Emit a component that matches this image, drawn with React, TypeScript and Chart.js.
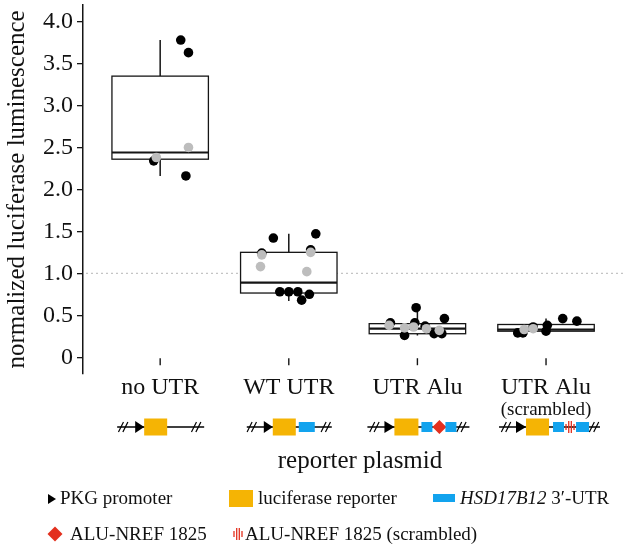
import React, { useEffect, useRef } from "react";
import { Chart, registerables } from "chart.js";
Chart.register(...registerables);

// ---------- data ----------
const categories = ["no UTR", "WT UTR", "UTR Alu", "UTR Alu"];
const categorySubLabels = ["", "", "", "(scrambled)"];
const yTicks = [0, 0.5, 1, 1.5, 2, 2.5, 3, 3.5, 4];
const yTickLabels = ["0", "0.5", "1.0", "1.5", "2.0", "2.5", "3.0", "3.5", "4.0"];
const yTitle = "normalized luciferase luminescence";
const xTitle = "reporter plasmid";
const referenceLevel = 1.0;

const whiskerLow = [2.16, 0.67, 0.26, 0.29];
const q1 = [2.36, 0.765, 0.28, 0.31];
const median = [2.44, 0.89, 0.34, 0.33];
const q3 = [3.35, 1.25, 0.4, 0.39];
const whiskerHigh = [3.78, 1.47, 0.59, 0.46];

const blackValues = [
  [3.78, 3.63, 2.34, 2.16],
  [1.42, 1.47, 1.24, 1.28, 0.78, 0.78, 0.78, 0.68, 0.75],
  [0.59, 0.41, 0.41, 0.46, 0.26, 0.28, 0.28, 0.37],
  [0.46, 0.43, 0.38, 0.31, 0.36, 0.29, 0.29],
];
const blackJitter = [
  [0.16, 0.22, -0.05, 0.2],
  [-0.12, 0.21, -0.21, 0.17, -0.07, 0.0, 0.07, 0.1, 0.16],
  [-0.01, -0.21, -0.02, 0.21, -0.1, 0.13, 0.19, 0.06],
  [0.13, 0.24, 0.01, 0.0, -0.1, -0.22, -0.18],
];
const greyValues = [
  [2.5, 2.38],
  [1.22, 1.25, 1.08, 1.02],
  [0.38, 0.35, 0.36, 0.34, 0.32],
  [0.33, 0.34],
];
const greyJitter = [
  [0.22, -0.03],
  [-0.21, 0.17, -0.22, 0.14],
  [-0.22, -0.1, -0.03, 0.07, 0.17],
  [-0.17, -0.1],
];

const legendRow1 = ["PKG promoter", "luciferase reporter", "HSD17B12", " 3\u2032-UTR"];
const legendRow2 = ["ALU-NREF 1825", "ALU-NREF 1825 (scrambled)"];

// ---------- styling ----------
const FONT = "'Liberation Serif', 'Times New Roman', serif";
const YELLOW = "#F5B404";
const BLUE = "#12A3EE";
const RED = "#E3301E";
const INK = "#151515";
const BOX_HALF = 0.375;

type Piece =
  | { t: "line"; a: number; b: number }
  | { t: "brk"; x: number }
  | { t: "arrow"; a: number; b: number }
  | { t: "yellow"; a: number; b: number }
  | { t: "blue"; a: number; b: number }
  | { t: "diamond"; x: number }
  | { t: "scr"; x: number };

const plasmidDrawings: Piece[][] = [
  [
    { t: "line", a: -43, b: 44 },
    { t: "brk", x: -37 },
    { t: "brk", x: 36 },
    { t: "arrow", a: -25, b: -16 },
    { t: "yellow", a: -16, b: 7 },
  ],
  [
    { t: "line", a: -42, b: 43 },
    { t: "brk", x: -37 },
    { t: "brk", x: 37 },
    { t: "arrow", a: -25, b: -16 },
    { t: "yellow", a: -16, b: 7 },
    { t: "blue", a: 10, b: 26 },
  ],
  [
    { t: "line", a: -50, b: 52 },
    { t: "brk", x: -43 },
    { t: "brk", x: 44 },
    { t: "arrow", a: -33, b: -23 },
    { t: "yellow", a: -23, b: 1 },
    { t: "blue", a: 4, b: 15 },
    { t: "diamond", x: 22 },
    { t: "blue", a: 28, b: 39 },
  ],
  [
    { t: "line", a: -47, b: 54 },
    { t: "brk", x: -40 },
    { t: "brk", x: 48 },
    { t: "arrow", a: -30, b: -20 },
    { t: "yellow", a: -20, b: 3 },
    { t: "blue", a: 7, b: 18 },
    { t: "scr", x: 24 },
    { t: "blue", a: 30, b: 43 },
  ],
];

function drawTriangle(ctx: CanvasRenderingContext2D, a: number, b: number, y: number, h: number) {
  ctx.beginPath();
  ctx.moveTo(a, y - h);
  ctx.lineTo(b, y);
  ctx.lineTo(a, y + h);
  ctx.closePath();
  ctx.fillStyle = "#000";
  ctx.fill();
}
function drawDiamond(ctx: CanvasRenderingContext2D, x: number, y: number, h: number) {
  ctx.beginPath();
  ctx.moveTo(x, y - h);
  ctx.lineTo(x + h, y);
  ctx.lineTo(x, y + h);
  ctx.lineTo(x - h, y);
  ctx.closePath();
  ctx.fillStyle = RED;
  ctx.fill();
}
function drawScrambled(ctx: CanvasRenderingContext2D, x: number, y: number) {
  ctx.strokeStyle = RED;
  ctx.lineWidth = 1.3;
  const offs = [-4, -1.3, 1.3, 4];
  const hs = [3, 6, 6, 3];
  offs.forEach((o, k) => {
    ctx.beginPath();
    ctx.moveTo(x + o, y - hs[k]);
    ctx.lineTo(x + o, y + hs[k]);
    ctx.stroke();
  });
}

function drawPlasmid(ctx: CanvasRenderingContext2D, cx: number, y: number, pieces: Piece[]) {
  ctx.save();
  for (const p of pieces) {
    if (p.t === "line") {
      ctx.strokeStyle = "#000";
      ctx.lineWidth = 1.4;
      ctx.beginPath();
      ctx.moveTo(cx + p.a, y);
      ctx.lineTo(cx + p.b, y);
      ctx.stroke();
    } else if (p.t === "brk") {
      ctx.strokeStyle = "#000";
      ctx.lineWidth = 1.2;
      for (const d of [-2.2, 2.2]) {
        ctx.beginPath();
        ctx.moveTo(cx + p.x + d - 2.5, y + 5);
        ctx.lineTo(cx + p.x + d + 2.5, y - 5);
        ctx.stroke();
      }
    } else if (p.t === "arrow") {
      drawTriangle(ctx, cx + p.a, cx + p.b, y, 6);
    } else if (p.t === "yellow") {
      ctx.fillStyle = YELLOW;
      ctx.fillRect(cx + p.a, y - 8.5, p.b - p.a, 17);
    } else if (p.t === "blue") {
      ctx.fillStyle = BLUE;
      ctx.fillRect(cx + p.a, y - 5, p.b - p.a, 10);
    } else if (p.t === "diamond") {
      drawDiamond(ctx, cx + p.x, y, 7);
    } else if (p.t === "scr") {
      drawScrambled(ctx, cx + p.x, y);
    }
  }
  ctx.restore();
}

const boxPlugin = {
  id: "boxes",
  beforeDatasetsDraw(chart: any) {
    const ctx: CanvasRenderingContext2D = chart.ctx;
    const xs = chart.scales.x;
    const ys = chart.scales.y;
    const area = chart.chartArea;
    ctx.save();
    // reference line
    ctx.strokeStyle = "#c4c4c4";
    ctx.lineWidth = 1.2;
    ctx.setLineDash([2, 3]);
    const yr = ys.getPixelForValue(referenceLevel);
    ctx.beginPath();
    ctx.moveTo(area.left + 3, yr);
    ctx.lineTo(area.right, yr);
    ctx.stroke();
    ctx.setLineDash([]);
    categories.forEach((_, i) => {
      const cx = xs.getPixelForValue(i);
      const x0 = xs.getPixelForValue(i - BOX_HALF);
      const x1 = xs.getPixelForValue(i + BOX_HALF);
      const yq1 = ys.getPixelForValue(q1[i]);
      const yq3 = ys.getPixelForValue(q3[i]);
      const ym = ys.getPixelForValue(median[i]);
      const ylo = ys.getPixelForValue(whiskerLow[i]);
      const yhi = ys.getPixelForValue(whiskerHigh[i]);
      ctx.strokeStyle = INK;
      ctx.lineWidth = 1.5;
      ctx.beginPath();
      ctx.moveTo(cx, yhi);
      ctx.lineTo(cx, yq3);
      ctx.moveTo(cx, yq1);
      ctx.lineTo(cx, ylo);
      ctx.stroke();
      ctx.fillStyle = "#fff";
      ctx.fillRect(x0, yq3, x1 - x0, yq1 - yq3);
      ctx.lineWidth = 1.3;
      ctx.strokeRect(x0, yq3, x1 - x0, yq1 - yq3);
      ctx.lineWidth = 2.2;
      ctx.beginPath();
      ctx.moveTo(x0, ym);
      ctx.lineTo(x1, ym);
      ctx.stroke();
    });
    ctx.restore();
  },
  afterDraw(chart: any) {
    const ctx: CanvasRenderingContext2D = chart.ctx;
    const xs = chart.scales.x;
    const ys = chart.scales.y;
    const area = chart.chartArea;
    const y0 = ys.getPixelForValue(0);
    ctx.save();
    ctx.fillStyle = "#111";
    ctx.textAlign = "center";
    ctx.textBaseline = "alphabetic";
    categories.forEach((label, i) => {
      const cx = xs.getPixelForValue(i);
      ctx.strokeStyle = INK;
      ctx.lineWidth = 1.4;
      ctx.beginPath();
      ctx.moveTo(cx, y0 + 1);
      ctx.lineTo(cx, y0 + 8);
      ctx.stroke();
      ctx.font = `24px ${FONT}`;
      ctx.fillStyle = "#111";
      ctx.fillText(label, cx, area.bottom + 20);
      if (categorySubLabels[i]) {
        ctx.font = `19px ${FONT}`;
        ctx.fillText(categorySubLabels[i], cx, area.bottom + 41);
      }
      drawPlasmid(ctx, cx, area.bottom + 53, plasmidDrawings[i]);
    });
    // x title
    ctx.font = `25px ${FONT}`;
    ctx.fillStyle = "#111";
    ctx.fillText(xTitle, 360, area.bottom + 94);

    // legend
    ctx.textAlign = "left";
    ctx.font = `19px ${FONT}`;
    const r1 = area.bottom + 130;
    const r2 = area.bottom + 166;
    drawTriangle(ctx, 48, 56, r1 - 5, 5);
    ctx.fillStyle = "#111";
    ctx.fillText(legendRow1[0], 60, r1);
    ctx.fillStyle = YELLOW;
    ctx.fillRect(229, r1 - 14, 24, 17);
    ctx.fillStyle = "#111";
    ctx.fillText(legendRow1[1], 258, r1);
    ctx.fillStyle = BLUE;
    ctx.fillRect(433, r1 - 10, 22, 8);
    ctx.fillStyle = "#111";
    ctx.font = `italic 19px ${FONT}`;
    ctx.fillText(legendRow1[2], 460, r1);
    const w = ctx.measureText(legendRow1[2]).width;
    ctx.font = `19px ${FONT}`;
    ctx.fillText(legendRow1[3], 460 + w, r1);

    drawDiamond(ctx, 55, r2 - 6, 7.5);
    ctx.fillStyle = "#111";
    ctx.fillText(legendRow2[0], 70, r2);
    drawScrambled(ctx, 238, r2 - 6);
    ctx.fillStyle = "#111";
    ctx.fillText(legendRow2[1], 245, r2);
    ctx.restore();
  },
};

export default function App() {
  const canvasRef = useRef<HTMLCanvasElement | null>(null);
  useEffect(() => {
    document.body.style.margin = "0";
    const canvas = canvasRef.current;
    if (!canvas) return;
    const black: { x: number; y: number }[] = [];
    const grey: { x: number; y: number }[] = [];
    blackValues.forEach((vals, i) =>
      vals.forEach((v, j) => black.push({ x: i + blackJitter[i][j], y: v }))
    );
    greyValues.forEach((vals, i) =>
      vals.forEach((v, j) => grey.push({ x: i + greyJitter[i][j], y: v }))
    );
    const chart = new Chart(canvas, {
      type: "scatter",
      data: {
        datasets: [
          { label: "grey", data: grey, backgroundColor: "#bdbdbd", pointRadius: 4.8, borderWidth: 0, pointHoverRadius: 4.8 },
          { label: "black", data: black, backgroundColor: "#000", pointRadius: 4.8, borderWidth: 0, pointHoverRadius: 4.8 },
        ],
      },
      options: {
        responsive: false,
        animation: false,
        events: [],
        layout: { padding: { top: 0, left: 0, right: 0, bottom: 173 } },
        plugins: { legend: { display: false }, tooltip: { enabled: false } },
        scales: {
          x: { type: "linear", min: -0.6, max: 3.6, display: false },
          y: {
            type: "linear",
            min: -0.2,
            max: 4.2,
            afterBuildTicks: (scale: any) => {
              scale.ticks = yTicks.map((v) => ({ value: v }));
            },
            afterFit: (scale: any) => {
              scale.width = 83;
              scale.paddingTop = 0;
              scale.paddingBottom = 0;
            },
            ticks: {
              autoSkip: false,
              padding: 4,
              color: "#111",
              font: { family: FONT, size: 24 },
              callback: (_v: any, idx: number) => yTickLabels[idx],
            },
            grid: { drawOnChartArea: false, drawTicks: true, tickLength: 6, color: INK, lineWidth: 1.3 },
            border: { display: true, color: INK, width: 1.5 },
            title: {
              display: true,
              text: yTitle,
              color: "#111",
              font: { family: FONT, size: 25 },
              padding: { top: 2, bottom: 0 },
            },
          },
        },
      },
      plugins: [boxPlugin],
    });
    return () => chart.destroy();
  }, []);
  return (
    <div style={{ position: "fixed", left: 0, top: 0, width: 628, height: 547, background: "#fff" }}>
      <canvas ref={canvasRef} width={628} height={547} style={{ display: "block" }} />
    </div>
  );
}
